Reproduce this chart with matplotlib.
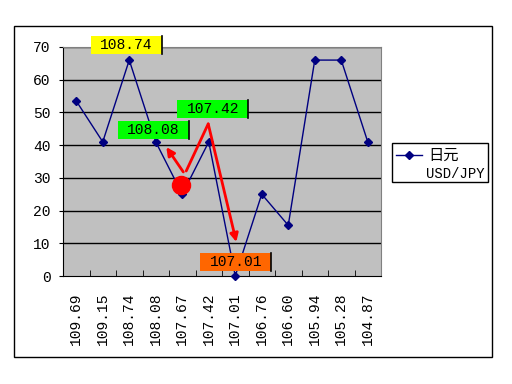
import matplotlib
matplotlib.use("Agg")
import matplotlib.pyplot as plt
from matplotlib.patches import Rectangle
from matplotlib.lines import Line2D

categories = ["109.69", "109.15", "108.74", "108.08", "107.67", "107.42",
              "107.01", "106.76", "106.60", "105.94", "105.28", "104.87"]
values = [53.5, 41, 66, 41, 25, 41, 0, 25, 15.5, 66, 66, 41]
yticks = [0, 10, 20, 30, 40, 50, 60, 70]
series_name = "日元"
series_sub = "USD/JPY"

# callouts: text, center (category index, value), face colour
callouts = [("108.74", 1.89, 70.6, "#FFFF00"),
            ("108.08", 2.92, 44.6, "#00FF00"),
            ("107.42", 5.15, 51.1, "#00FF00"),
            ("107.01", 6.02, 4.3, "#FF6600")]

mono = ["Liberation Mono", "Noto Sans CJK JP"]
W, H = 512, 384
fig = plt.figure(figsize=(W / 100, H / 100), dpi=100)
fig.patch.set_facecolor("white")

# outer frame
fig.patches.append(Rectangle((14 / W, 1 - 357 / H), (492 - 14) / W, (357 - 26) / H,
                             transform=fig.transFigure, fill=False, ec="black", lw=1.0))

ax = fig.add_axes([63 / W, 1 - 276 / H, 318 / W, (276 - 47) / H])
ax.set_facecolor("#C0C0C0")
x = list(range(len(categories)))
ax.set_xlim(-0.5, len(categories) - 0.5)
ax.set_ylim(0, 70)
ax.set_yticks(yticks)
ax.set_yticklabels([str(v) for v in yticks], fontfamily=mono, fontsize=10.5)
for v in yticks[1:]:
    ax.axhline(v, color="black", lw=1.0, zorder=1)
ax.set_xticks(x)
ax.set_xticklabels(categories, rotation=90, fontfamily=mono, fontsize=10.5)
ax.tick_params(axis="x", length=0, pad=12)
ax.set_xticks([i + 0.5 for i in x[:-1]], minor=True)
ax.tick_params(axis="x", which="minor", direction="in", length=4, color="black")
ax.tick_params(axis="y", direction="out", length=3, pad=6)
for s in ["top", "right"]:
    ax.spines[s].set_color("#808080")
for s in ["left", "bottom"]:
    ax.spines[s].set_color("black")

ax.plot(x, values, color="#000080", lw=1.0, marker="D", ms=4.5,
        mfc="#000080", mec="#000080", zorder=3, clip_on=False)

# red arrows
ax.annotate("", xy=(3.40, 39.4), xytext=(4.04, 31.8),
            arrowprops=dict(arrowstyle="-|>", color="red", lw=2, mutation_scale=12,
                            shrinkA=0, shrinkB=0), zorder=4)
ax.plot([4.15, 4.98], [32.1, 46.5], color="red", lw=2, zorder=4, solid_capstyle="round")
ax.annotate("", xy=(6.04, 10.4), xytext=(4.98, 46.5),
            arrowprops=dict(arrowstyle="-|>", color="red", lw=2, mutation_scale=12,
                            shrinkA=0, shrinkB=0), zorder=4)
ax.plot([3.96], [27.8], marker="o", ms=13, color="red", mec="red", zorder=5)

bw, bh = 2.68, 5.5
for txt, cx, cy, col in callouts:
    ax.add_patch(Rectangle((cx - bw / 2, cy - bh / 2), bw, bh, fc=col, ec="none",
                           zorder=6, clip_on=False))
    ax.plot([cx + bw / 2, cx + bw / 2], [cy - bh / 2, cy + bh / 2], color="black",
            lw=1.2, zorder=7, clip_on=False)
    ax.text(cx, cy, txt, ha="center", va="center", fontfamily=mono, fontsize=10.5,
            zorder=8, clip_on=False)

# legend
fig.patches.append(Rectangle((392 / W, 1 - 182 / H), (488 - 392) / W, (182 - 143) / H,
                             transform=fig.transFigure, fill=False, ec="black", lw=1.0))
fig.lines.append(Line2D([396 / W, 422 / W], [1 - 155 / H, 1 - 155 / H],
                        transform=fig.transFigure, color="#000080", lw=1.0))
fig.lines.append(Line2D([409 / W], [1 - 155 / H], transform=fig.transFigure,
                        color="#000080", marker="D", ms=4.5))
fig.text(428 / W, 1 - 155 / H, series_name, fontfamily=["Noto Sans CJK SC"], fontsize=11,
         va="center", ha="left")
fig.text(485 / W, 1 - 174 / H, series_sub, fontfamily=mono, fontsize=10,
         va="center", ha="right")

fig.savefig("out.png", dpi=100)
